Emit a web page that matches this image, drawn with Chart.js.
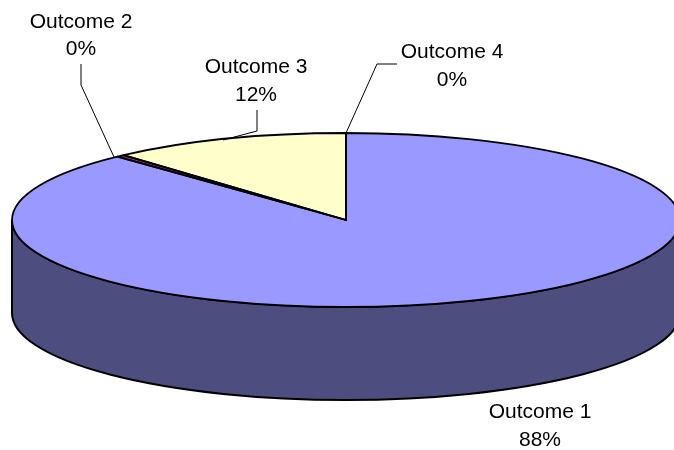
<!DOCTYPE html>
<html>
<head>
<meta charset="utf-8">
<style>
    html, body { margin: 0; padding: 0; background: #fff; overflow: hidden; }
</style>
<script src="https://cdn.jsdelivr.net/npm/chart.js@4"></script>
</head>
<body>
<canvas id="pie3d" width="674" height="450"></canvas>
<script>
const categories = ['Outcome 1', 'Outcome 2', 'Outcome 3', 'Outcome 4'];
const shares = [88, 0.4, 11.6, 0];
const topColors = ['#9999FF', '#993366', '#FFFFCC', '#CCFFFF'];
const sideColors = ['#4D4D80', '#4D1A33', '#808066', '#668080'];

// ellipse of the tilted pie, in page pixels
const tilt = { cx: 346, cy: 220, rx: 334, ry: 87, depth: 93 };

// label centres and leader lines
const labelSpots = [
    { x: 540, y1: 412, y2: 440, leader: null },
    { x: 81, y1: 22, y2: 49, leader: [[81, 64], [81, 85], [114, 157]] },
    { x: 256, y1: 67, y2: 95, leader: [[257, 110], [257, 131], [223, 140]] },
    { x: 452, y1: 52, y2: 80, leader: [[397, 64], [377, 64], [346, 133]] }
];

const tiltedPie = {
    id: 'tiltedPie',
    beforeDatasetsDraw(chart) {
        const ctx = chart.ctx;
        const arcs = chart.getDatasetMeta(0).data;
        const t = tilt;

        // side wall: only the part of each slice on the front of the ellipse
        arcs.forEach((arc, i) => {
            [0, -2 * Math.PI].forEach(shift => {
                const a = Math.max(arc.startAngle + shift, 0);
                const b = Math.min(arc.endAngle + shift, Math.PI);
                if (b <= a) return;
                ctx.beginPath();
                ctx.ellipse(t.cx, t.cy, t.rx, t.ry, 0, a, b);
                ctx.ellipse(t.cx, t.cy + t.depth, t.rx, t.ry, 0, b, a, true);
                ctx.closePath();
                ctx.fillStyle = sideColors[i];
                ctx.fill();
                ctx.strokeStyle = '#000';
                ctx.lineWidth = 2;
                ctx.stroke();
            });
        });

        // squash the round pie that chart.js draws
        const first = arcs[0];
        ctx.save();
        ctx.translate(t.cx, t.cy);
        ctx.scale(t.rx / first.outerRadius, t.ry / first.outerRadius);
        ctx.translate(-first.x, -first.y);
    },
    afterDatasetsDraw(chart) {
        const ctx = chart.ctx;
        const arcs = chart.getDatasetMeta(0).data;
        const t = tilt;
        ctx.restore();

        // outlines are done here so the line width does not get squashed
        ctx.strokeStyle = '#000';
        ctx.lineWidth = 1.8;
        ctx.lineJoin = 'round';
        arcs.forEach(arc => {
            if (arc.endAngle - arc.startAngle <= 0) return;
            ctx.beginPath();
            ctx.moveTo(t.cx, t.cy);
            ctx.ellipse(t.cx, t.cy, t.rx, t.ry, 0, arc.startAngle, arc.endAngle);
            ctx.closePath();
            ctx.stroke();
        });

        // leaders and labels
        ctx.textAlign = 'center';
        ctx.textBaseline = 'middle';
        ctx.fillStyle = '#000';
        ctx.lineWidth = 1;
        ctx.font = '21px "Liberation Sans"';
        labelSpots.forEach((spot, i) => {
            if (spot.leader) {
                ctx.beginPath();
                spot.leader.forEach((p, k) => k ? ctx.lineTo(p[0], p[1]) : ctx.moveTo(p[0], p[1]));
                ctx.stroke();
            }
            ctx.fillText(categories[i], spot.x, spot.y1);
            ctx.fillText(Math.round(shares[i]) + '%', spot.x, spot.y2);
        });
    }
};

new Chart(document.getElementById('pie3d').getContext('2d'), {
    type: 'pie',
    data: {
        labels: categories,
        datasets: [{
            data: shares,
            backgroundColor: topColors,
            borderWidth: 0
        }]
    },
    options: {
        responsive: false,
        animation: false,
        plugins: {
            legend: { display: false },
            tooltip: { enabled: false }
        }
    },
    plugins: [tiltedPie]
});
</script>
</body>
</html>
